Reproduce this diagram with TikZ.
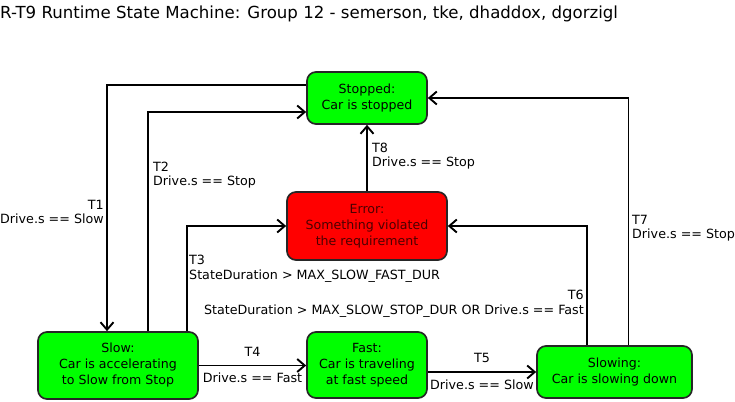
\documentclass[tikz,border=0pt]{standalone}
\usepackage{fontspec}
\setmainfont{DejaVu Sans}
\usetikzlibrary{arrows.meta}
\definecolor{stategreen}{RGB}{0,255,0}
\definecolor{statered}{RGB}{255,0,0}
\definecolor{errortext}{RGB}{75,0,0}
\tikzset{
  state/.style={
    draw=black!85, line width=1.7pt, rounded corners=9pt,
    fill=stategreen, align=center, inner sep=0pt,
    font=\fontsize{12.6}{16}\selectfont
  },
  state error/.style={
    fill=statered, text=errortext
  },
  guard/.style={
    inner sep=0pt, font=\fontsize{12.7}{14.5}\selectfont
  }
}

\begin{document}
\begin{tikzpicture}[x=1pt,y=-1pt]
        \useasboundingbox (0,0) rectangle (735,401);
        \node[anchor=base west, inner sep=0pt, font=\fontsize{16.6}{18}\selectfont] (title) at (0,19)
            {R-T9 Runtime State Machine: Group 12 - semerson, tke, dhaddox, dgorzigl};

        \begin{scope}[every node/.style={state}]
            \node[minimum width=120pt, minimum height=52pt] (Stopped) at (367, 98) {Stopped:\\Car is stopped};
            \node[state error, minimum width=160pt, minimum height=68pt] (Error) at (367, 226) {Error:\\Something violated\\the requirement};
            \node[minimum width=160pt, minimum height=67pt] (Slow) at (118, 365.5) {Slow:\\Car is accelerating\\to Slow from Stop};
            \node[minimum width=120pt, minimum height=66pt] (Fast) at (367, 365) {Fast:\\Car is traveling\\at fast speed};
            \node[minimum width=155pt, minimum height=52pt] (Slowing) at (614.5, 372) {Slowing:\\Car is slowing down};
        \end{scope}

        \begin{scope}[>={Straight Barb[length=7.5pt,width=13pt]}, line width=1.9pt]
            \draw [->] ([yshift=13pt]Stopped.west) -| ([xshift=-11pt]Slow.north);
            \draw [->] ([xshift=30pt]Slow.north) |- ([yshift=-14pt]Stopped.west);
            \draw [->] ([xshift=69pt]Slow.north) |- (Error.west);
            \draw [->] (Slow.east) -- node[guard, above=8pt] (T4) {T4} node[guard, below=6pt] (T4guard) {Drive.s == Fast} (Slow.east -| Fast.west);
            \draw [->] (Fast.east |- Slowing.west) -- node[guard, above=8pt] (T5) {T5} node[guard, below=7pt] (T5guard) {Drive.s == Slow} (Slowing.west);
            \draw [->] ([xshift=-27.5pt]Slowing.north) |- (Error.east);
            \draw [->] ([xshift=14pt]Slowing.north) |- (Stopped.east);
            \draw [->] (Error.north) -- (Stopped.south);
        \end{scope}

        \begin{scope}[every node/.style={guard}]
            \node[anchor=east, align=right] (T1) at (104, 212) {T1\\Drive.s == Slow};
            \node[anchor=west, align=left] (T2) at (153, 175) {T2\\Drive.s == Stop};
            \node[anchor=west, align=left] (T3) at (189, 269) {T3\\StateDuration > MAX\_SLOW\_FAST\_DUR};
            \node[anchor=east, align=right] (T6) at (584, 304) {T6\\StateDuration > MAX\_SLOW\_STOP\_DUR OR Drive.s == Fast};
            \node[anchor=west, align=left] (T7) at (632, 228) {T7\\Drive.s == Stop};
            \node[anchor=west, align=left] (T8) at (372, 156) {T8\\Drive.s == Stop};
        \end{scope}
    \end{tikzpicture}
\end{document}
